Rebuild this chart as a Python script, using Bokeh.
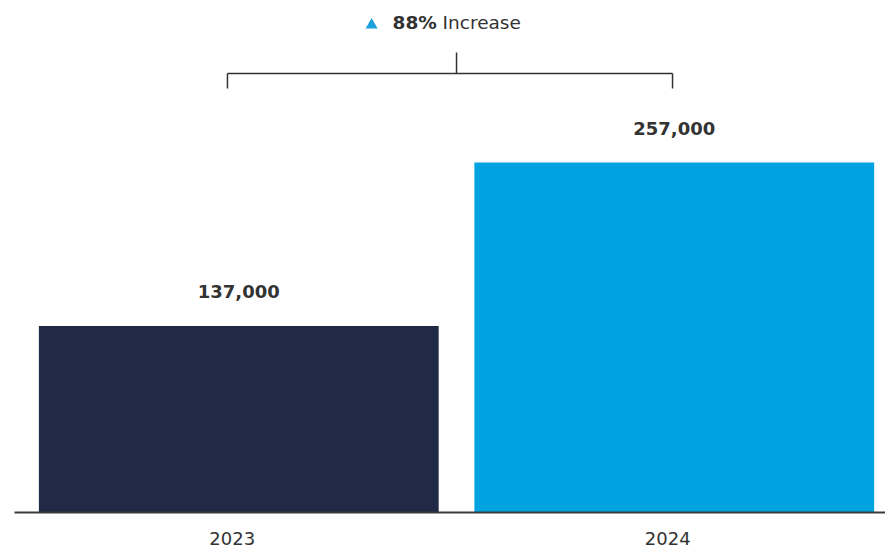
from bokeh.plotting import figure
from bokeh.models import Range1d, FixedTicker
from bokeh.core.properties import value
from bokeh.embed import file_html
from bokeh.resources import INLINE

categories = ["2023", "2024"]
values = [137000, 257000]
value_labels = ["137,000", "257,000"]
bar_colors = ["#202945", "#00A3E0"]
change_pct = "88%"
change_word = "Increase"

FONT = "DejaVu Sans"

p = figure(width=885, height=550, output_backend="svg", toolbar_location=None,
           x_range=Range1d(0, 2), y_range=Range1d(0, 376000),
           min_border_left=14, min_border_right=0, min_border_top=0, min_border_bottom=38)

xs = [i + 0.5 for i in range(len(categories))]
bar_x = [x + 0.015 for x in xs]
p.vbar(x=bar_x, top=values, width=0.918, color=bar_colors, line_color=None)

p.text(x=bar_x, y=values, text=value_labels, text_align="center", text_baseline="alphabetic",
       y_offset=-34, text_font=value(FONT), text_font_style="bold", text_font_size="18px",
       text_color="#333333")

# bracket
yb = 322300
p.segment(x0=[0.489, 0.489, 1.511, 1.015], y0=[yb, yb, yb, yb],
          x1=[1.511, 0.489, 1.511, 1.015], y1=[yb, 311300, 311300, 337800],
          line_color="#333333", line_width=1.5)

# header
yt = 360100
p.scatter(x=[0.820], y=[358000], marker="triangle", size=12, color="#1BA1DE", line_color=None)
p.text(x=[0.868], y=[yt], text=[change_pct], text_align="left", text_baseline="alphabetic",
       text_font=value(FONT), text_font_style="bold", text_font_size="18.5px", text_color="#333333")
p.text(x=[0.983], y=[yt], text=[change_word], text_align="left", text_baseline="alphabetic",
       text_font=value(FONT), text_font_size="18.5px", text_color="#333333")

p.yaxis.visible = False
p.xaxis.ticker = FixedTicker(ticks=xs)
p.xaxis.major_label_overrides = {x: c for x, c in zip(xs, categories)}
p.xaxis.major_tick_line_color = None
p.xaxis.minor_tick_line_color = None
p.xaxis.axis_line_color = "#3a3a3a"
p.xaxis.axis_line_width = 2
p.xaxis.major_label_text_font = FONT
p.xaxis.major_label_text_font_size = "18px"
p.xaxis.major_label_text_color = "#333333"
p.xaxis.major_label_standoff = 13
p.xgrid.visible = False
p.ygrid.visible = False
p.outline_line_color = None
p.background_fill_color = "white"

open("out.html", "w").write(file_html(p, INLINE))
